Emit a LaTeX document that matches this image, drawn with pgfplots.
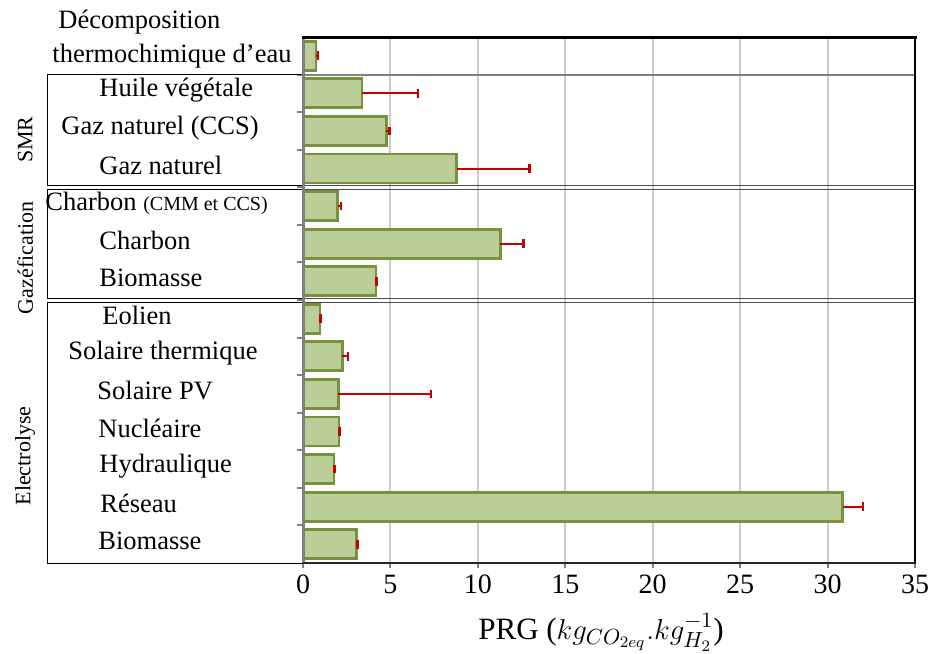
\documentclass[border=0pt]{standalone}
\usepackage{fontspec}
\setmainfont{Liberation Serif}
\usepackage{pgfplots}
\pgfplotsset{compat=1.18}
\usepackage{pgfplotstable}
\definecolor{barfill}{RGB}{187,206,151}
\definecolor{barline}{RGB}{118,146,60}
\definecolor{errred}{RGB}{200,0,0}
\pgfplotstableread{
y x err
1 3.07 0.03
2 30.87 1.15
3 1.77 0.03
4 2.06 0.03
5 2.02 5.30
6 2.25 0.33
7 0.97 0.03
8 4.17 0.03
9 11.28 1.33
10 1.98 0.20
11 8.80 4.17
12 4.76 0.20
13 3.37 3.20
14 0.74 0.12
}\data
\newcommand{\lab}[2]{\hspace*{#1pt}#2}
\newcommand{\tfont}{\fontsize{13.25}{17}\selectfont}
\begin{document}
\begin{tikzpicture}
\useasboundingbox (0,0) rectangle (470pt,-326.5pt);
\begin{axis}[
  at={(151.5pt,-281.5pt)}, anchor=south west,
  scale only axis, width=306pt, height=263pt,
  xmin=0, xmax=35, ymin=0.5, ymax=14.5,
  clip=false,
  axis line style={draw=none},
  xtick={0,5,...,35},
  xmajorgrids, grid style={gray!40, line width=1pt},
  tick pos=left, tick align=outside,
  major tick length=2.5pt, minor tick length=3pt,
  major x tick style={gray, line width=1pt},
  major y tick style={draw=none},
  minor y tick style={gray, line width=1pt},
  minor ytick={1.5,2.5,...,13.5},
  ytick={1,...,13},
  yticklabels={
    {\lab{31.5}{Biomasse}},
    {\lab{32.5}{Réseau}},
    {\lab{32}{Hydraulique}},
    {\lab{31.5}{Nucléaire}},
    {\lab{31}{Solaire PV}},
    {\lab{16.5}{Solaire thermique}},
    {\lab{33.5}{Eolien}},
    {\lab{32}{Biomasse}},
    {\lab{32}{Charbon}},
    {\lab{5}{Charbon {\fontsize{10}{12}\selectfont (CMM et CCS)}}},
    {\lab{32}{Gaz naturel}},
    {\lab{13}{Gaz naturel (CCS)}},
    {\lab{32}{Huile végétale}}
  },
  extra y ticks={14},
  extra y tick labels={{\hspace*{11.5pt}Décomposition\\\hspace*{8.5pt}thermochimique d’eau}},
  extra y tick style={ymajorgrids=false, yticklabel style={yshift=7pt, align=left}},
  yticklabel style={anchor=west, inner sep=0pt, xshift=-131.5pt, yshift=1.5pt, font=\tfont},
  xticklabel style={font=\fontsize{14}{17}\selectfont},
  /pgf/number format/assume math mode=true,
  xlabel={PRG ($kg_{CO_{2eq}}.kg_{H_2}^{-1}$)},
  xlabel style={font=\fontsize{15.5}{18}\selectfont, yshift=-3pt, xshift=-4pt},
]
\addplot[xbar, bar width=14.5pt, fill=barfill, draw=barline, line width=1.4pt,
  error bars/.cd, x dir=plus, x explicit, error mark=|,
  error bar style={errred, line width=1pt},
  error mark options={errred, line width=1.3pt, mark size=2.2pt}]
  table[x=x, y=y, x error=err] {\data};

% group boxes
\draw[line width=0.5pt] (axis cs:-14.63,13.5) rectangle ([yshift=1pt]axis cs:0,10.5);
\draw[line width=0.5pt] ([yshift=-1pt]axis cs:-14.63,10.5) rectangle ([yshift=1pt]axis cs:0,7.5);
\draw[line width=0.5pt] ([yshift=-1pt]axis cs:-14.63,7.5) rectangle (axis cs:0,0.5);
\draw[gray, line width=1pt] (axis cs:0,13.5) -- (axis cs:35,13.5);
\draw[black!70, line width=0.5pt] ([yshift=1pt]axis cs:0,10.5) -- ([yshift=1pt]axis cs:35,10.5);
\draw[black!70, line width=0.5pt] ([yshift=-1pt]axis cs:0,10.5) -- ([yshift=-1pt]axis cs:35,10.5);
\draw[black!70, line width=0.5pt] ([yshift=1pt]axis cs:0,7.5) -- ([yshift=1pt]axis cs:35,7.5);
\draw[black!70, line width=0.5pt] ([yshift=-1pt]axis cs:0,7.5) -- ([yshift=-1pt]axis cs:35,7.5);
% frame
\draw[gray, line width=1.5pt] (rel axis cs:0,0) -- (rel axis cs:0,1);
\draw[black!85, line width=0.9pt] (rel axis cs:0,0) -- (rel axis cs:1,0);
\draw[black, line width=1.3pt, line cap=rect] (rel axis cs:1,0) -- (rel axis cs:1,1);
\draw[black, line width=1.5pt, line cap=rect] (rel axis cs:0,1) -- (rel axis cs:1,1);
% group labels
\node[rotate=90, font=\fontsize{11}{13}\selectfont] at (axis cs:-15.89,11.77) {SMR};
\node[rotate=90, font=\fontsize{11}{13}\selectfont] at (axis cs:-15.89,8.62) {Gazéfication};
\node[rotate=90, font=\fontsize{11}{13}\selectfont] at (axis cs:-15.89,3.35) {Electrolyse};
\end{axis}
\end{tikzpicture}
\end{document}
